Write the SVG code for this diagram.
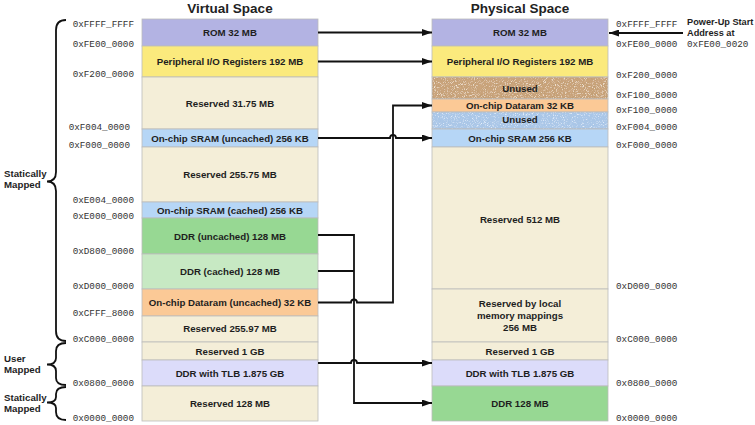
<svg xmlns="http://www.w3.org/2000/svg" width="755" height="425" viewBox="0 0 755 425">
<style>
.t{font-family:"Liberation Sans",Arial,sans-serif;font-weight:bold;font-size:9.7px;fill:#1e1e1e;text-anchor:middle}
.h{font-family:"Liberation Sans",Arial,sans-serif;font-weight:bold;font-size:13.5px;fill:#222;text-anchor:middle}
.s{font-family:"Liberation Sans",Arial,sans-serif;font-weight:bold;font-size:9.7px;fill:#1e1e1e}
.a{font-family:"Liberation Mono","Courier New",monospace;font-size:9.3px;fill:#333}
.ae{text-anchor:end}
.r{stroke:#bcbcbc;stroke-width:0.8}
.rom{fill:#b3b3e3}.per{fill:#fbea7d}.res{fill:#f4eed8}.sram{fill:#b6d6f6}
.ddru{fill:#97d893}.ddrc{fill:#c7e9c3}.dr{fill:#fbc996}.tlb{fill:#dcdcfa}
.c{fill:none;stroke:#111;stroke-width:1.8}
.br{fill:none;stroke:#111;stroke-width:1.8}
</style>
<defs>
<marker id="ah" markerWidth="10" markerHeight="7" refX="10" refY="3.5" orient="auto" markerUnits="userSpaceOnUse">
<path d="M0,0 L10,3.5 L0,7 z" fill="#111"/>
</marker>
<filter id="speckBrown" x="0" y="0" width="100%" height="100%">
<feTurbulence type="fractalNoise" baseFrequency="1.1" numOctaves="2" seed="4" result="n"/>
<feColorMatrix in="n" type="matrix" values="0 0 0 0 0.5  0 0 0 0 0.33  0 0 0 0 0.16  3 0 0 0 -1.55" result="d"/>
<feColorMatrix in="n" type="matrix" values="0 0 0 0 0.97  0 0 0 0 0.9  0 0 0 0 0.8  -3 0 0 0 1.35" result="l"/>
<feMerge result="m"><feMergeNode in="d"/><feMergeNode in="l"/></feMerge>
<feComposite in="m" in2="SourceGraphic" operator="atop"/>
</filter>
<filter id="speckBlue" x="0" y="0" width="100%" height="100%">
<feTurbulence type="fractalNoise" baseFrequency="1.1" numOctaves="2" seed="9" result="n"/>
<feColorMatrix in="n" type="matrix" values="0 0 0 0 0.45  0 0 0 0 0.6  0 0 0 0 0.82  3 0 0 0 -1.55" result="d"/>
<feColorMatrix in="n" type="matrix" values="0 0 0 0 0.86  0 0 0 0 0.92  0 0 0 0 0.99  -3 0 0 0 1.35" result="l"/>
<feMerge result="m"><feMergeNode in="d"/><feMergeNode in="l"/></feMerge>
<feComposite in="m" in2="SourceGraphic" operator="atop"/>
</filter>
</defs>

<text class="h" x="230" y="13">Virtual Space</text>
<text class="h" x="520" y="13">Physical Space</text>

<g id="virtual">
<g id="v-rom"><rect class="r rom" x="142" y="19" width="176" height="27"/><text class="t" x="230" y="36">ROM 32 MB</text></g>
<g id="v-periph"><rect class="r per" x="142" y="46" width="176" height="31"/><text class="t" x="230" y="65">Peripheral I/O Registers 192 MB</text></g>
<g id="v-res3175"><rect class="r res" x="142" y="77" width="176" height="52"/><text class="t" x="230" y="106.5">Reserved 31.75 MB</text></g>
<g id="v-sramu"><rect class="r sram" x="142" y="129" width="176" height="18"/><text class="t" x="230" y="141.5">On-chip SRAM (uncached) 256 KB</text></g>
<g id="v-res25575"><rect class="r res" x="142" y="147" width="176" height="55"/><text class="t" x="230" y="177.5">Reserved 255.75 MB</text></g>
<g id="v-sramc"><rect class="r sram" x="142" y="202" width="176" height="16"/><text class="t" x="230" y="213.5">On-chip SRAM (cached) 256 KB</text></g>
<g id="v-ddru"><rect class="r ddru" x="142" y="218" width="176" height="36"/><text class="t" x="230" y="239.5">DDR (uncached) 128 MB</text></g>
<g id="v-ddrc"><rect class="r ddrc" x="142" y="254" width="176" height="35"/><text class="t" x="230" y="274.5">DDR (cached) 128 MB</text></g>
<g id="v-dataram"><rect class="r dr" x="142" y="289" width="176" height="27"/><text class="t" x="230" y="306">On-chip Dataram (uncached) 32 KB</text></g>
<g id="v-res25597"><rect class="r res" x="142" y="316" width="176" height="26"/><text class="t" x="230" y="332">Reserved 255.97 MB</text></g>
<g id="v-res1g"><rect class="r res" x="142" y="342" width="176" height="18"/><text class="t" x="230" y="354.5">Reserved 1 GB</text></g>
<g id="v-tlb"><rect class="r tlb" x="142" y="360" width="176" height="26"/><text class="t" x="230" y="376.5">DDR with TLB 1.875 GB</text></g>
<g id="v-res128"><rect class="r res" x="142" y="386" width="176" height="35"/><text class="t" x="230" y="406.5">Reserved 128 MB</text></g>
</g>

<g id="physical">
<g id="p-rom"><rect class="r rom" x="432" y="19" width="176" height="27"/><text class="t" x="520" y="36">ROM 32 MB</text></g>
<g id="p-periph"><rect class="r per" x="432" y="46" width="176" height="31"/><text class="t" x="520" y="65">Peripheral I/O Registers 192 MB</text></g>
<g id="p-unused1"><rect fill="#caa47c" filter="url(#speckBrown)" x="432" y="77" width="176" height="22"/><rect class="r" fill="none" x="432" y="77" width="176" height="22"/><text class="t" x="520" y="91.5">Unused</text></g>
<g id="p-dataram"><rect class="r dr" x="432" y="99" width="176" height="13"/><text class="t" x="520" y="109">On-chip Dataram 32 KB</text></g>
<g id="p-unused2"><rect fill="#a9c6e7" filter="url(#speckBlue)" x="432" y="112" width="176" height="17"/><rect class="r" fill="none" x="432" y="112" width="176" height="17"/><text class="t" x="520" y="123">Unused</text></g>
<g id="p-sram"><rect class="r sram" x="432" y="129" width="176" height="18"/><text class="t" x="520" y="141.5">On-chip SRAM 256 KB</text></g>
<g id="p-res512"><rect class="r res" x="432" y="147" width="176" height="142"/><text class="t" x="520" y="223">Reserved 512 MB</text></g>
<g id="p-reslocal"><rect class="r res" x="432" y="289" width="176" height="53"/><text class="t" x="520" y="306.5">Reserved by local</text><text class="t" x="520" y="318.5">memory mappings</text><text class="t" x="520" y="330.5">256 MB</text></g>
<g id="p-res1g"><rect class="r res" x="432" y="342" width="176" height="18"/><text class="t" x="520" y="354.5">Reserved 1 GB</text></g>
<g id="p-tlb"><rect class="r tlb" x="432" y="360" width="176" height="26"/><text class="t" x="520" y="376.5">DDR with TLB 1.875 GB</text></g>
<g id="p-ddr128"><rect class="r ddru" x="432" y="386" width="176" height="35"/><text class="t" x="520" y="406.5">DDR 128 MB</text></g>
</g>

<g id="connectors">
<path class="c" marker-end="url(#ah)" d="M318 32.5 H432"/>
<path class="c" marker-end="url(#ah)" d="M318 61.5 H432"/>
<path class="c" marker-end="url(#ah)" d="M318 138 H390 A3 3 0 0 1 396 138 H432"/>
<path class="c" marker-end="url(#ah)" d="M318 302.5 H351 A3 3 0 0 1 357 302.5 H393 V105.5 H432"/>
<path class="c" marker-end="url(#ah)" d="M318 235 H354 V403 H432"/>
<path class="c" d="M318 271 H354"/>
<path class="c" marker-end="url(#ah)" d="M318 363 H351 A3 3 0 0 1 357 363 H432"/>
<path class="c" marker-end="url(#ah)" d="M683 33 H609"/>
</g>

<g id="braces">
<path class="br" d="M66 20 Q56 20 56 30 L56 172 Q56 181.5 47 181.5 Q56 181.5 56 191 L56 331 Q56 341 66 341"/>
<path class="br" d="M66 343 Q56 343 56 351 L56 358 Q56 364.5 47 364.5 Q56 364.5 56 371 L56 378 Q56 385 66 385"/>
<path class="br" d="M66 387 Q56 387 56 394 L56 397 Q56 402.5 47 402.5 Q56 402.5 56 408 L56 412 Q56 420 66 420"/>
<text class="s" x="4" y="177">Statically</text>
<text class="s" x="4" y="188">Mapped</text>
<text class="s" x="4" y="362">User</text>
<text class="s" x="4" y="373">Mapped</text>
<text class="s" x="4" y="401">Statically</text>
<text class="s" x="4" y="412">Mapped</text>
</g>

<g id="addr-virtual">
<text class="a ae" x="134" y="26.5">0xFFFF_FFFF</text>
<text class="a ae" x="134" y="47">0xFE00_0000</text>
<text class="a ae" x="134" y="77">0xF200_0000</text>
<text class="a ae" x="130" y="129.5">0xF004_0000</text>
<text class="a ae" x="130" y="147.5">0xF000_0000</text>
<text class="a ae" x="134" y="202.5">0xE004_0000</text>
<text class="a ae" x="134" y="218.5">0xE000_0000</text>
<text class="a ae" x="134" y="253.5">0xD800_0000</text>
<text class="a ae" x="134" y="289">0xD000_0000</text>
<text class="a ae" x="134" y="315.5">0xCFFF_8000</text>
<text class="a ae" x="134" y="342">0xC000_0000</text>
<text class="a ae" x="134" y="386">0x0800_0000</text>
<text class="a ae" x="134" y="421">0x0000_0000</text>
</g>

<g id="addr-physical">
<text class="a" x="616" y="27">0xFFFF_FFFF</text>
<text class="a" x="616" y="47">0xFE00_0000</text>
<text class="a" x="616" y="77.5">0xF200_0000</text>
<text class="a" x="616" y="98">0xF100_8000</text>
<text class="a" x="616" y="112.5">0xF100_0000</text>
<text class="a" x="616" y="130">0xF004_0000</text>
<text class="a" x="616" y="148">0xF000_0000</text>
<text class="a" x="616" y="289">0xD000_0000</text>
<text class="a" x="616" y="342">0xC000_0000</text>
<text class="a" x="616" y="386">0x0800_0000</text>
<text class="a" x="616" y="421">0x0000_0000</text>
</g>

<g id="powerup">
<text class="s" x="687" y="25" style="font-size:9.2px">Power-Up Start</text>
<text class="s" x="687" y="36" style="font-size:9.2px">Address at</text>
<text class="a" x="687" y="47">0xFE00_0020</text>
</g>
</svg>
